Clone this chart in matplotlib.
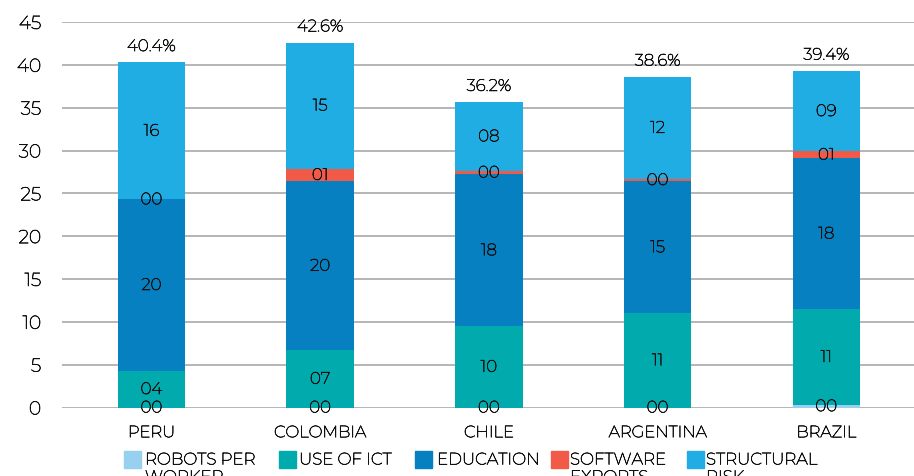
import matplotlib
matplotlib.use("Agg")
import matplotlib.pyplot as plt
import matplotlib.patheffects as pe
from matplotlib.patches import Rectangle
import numpy as np

plt.rcParams['font.family'] = ['Montserrat', 'Lato', 'DejaVu Sans']

countries = ["PERU", "COLOMBIA", "CHILE", "ARGENTINA", "BRAZIL"]
series_names = ["ROBOTS PER\nWORKER", "USE OF ICT", "EDUCATION", "SOFTWARE\nEXPORTS", "STRUCTURAL\nRISK"]
robots = [0.0, 0.0, 0.0, 0.0, 0.3]
use_ict = [4.3, 6.7, 9.5, 11.0, 11.2]
education = [20.0, 19.7, 17.7, 15.4, 17.6]
software = [0.0, 1.49, 0.45, 0.3, 0.8]
structural = [16.0, 14.71, 8.0, 11.9, 9.4]
totals = ["40.4%", "42.6%", "36.2%", "38.6%", "39.4%"]
colors = ["#97D1EF", "#00AAAD", "#0780C2", "#F05A47", "#1FADE4"]
yticks = [0, 5, 10, 15, 20, 25, 30, 35, 40, 45]

W, H = 914, 476
fig = plt.figure(figsize=(W / 100, H / 100), dpi=100)
ax = fig.add_axes([62 / W, 1 - 407.5 / H, 1 - 62 / W, (407.5 - 22) / H])

tc = "#111111"
thick = [pe.withStroke(linewidth=0.45, foreground=tc)]

x = np.arange(len(countries))
bottom = np.zeros(len(countries))
for vals, c in zip([robots, use_ict, education, software, structural], colors):
    vals = np.array(vals)
    ax.bar(x, vals, width=0.4, bottom=bottom, color=c, zorder=2)
    for xi, b, v in zip(x, bottom, vals):
        ax.text(xi, b + v / 2, "%02.0f" % v, ha="center", va="center",
                fontsize=12, color=tc, zorder=3, path_effects=thick)
    bottom = bottom + vals

for xi, top, t in zip(x, bottom, totals):
    ax.text(xi, top + 0.95, t, ha="center", va="bottom", fontsize=12,
            color=tc, path_effects=thick)

ax.set_xlim(-0.53, 4.52)
ax.set_ylim(0, 45)
ax.set_yticks(yticks)
ax.set_yticklabels([str(v) for v in yticks], fontsize=13.5, color=tc)
ax.set_xticks(x)
ax.set_xticklabels(countries, fontsize=11.8, color=tc)
for lab in ax.get_xticklabels() + ax.get_yticklabels():
    lab.set_path_effects(thick)
ax.tick_params(axis="both", length=0)
ax.tick_params(axis="y", pad=15)
ax.tick_params(axis="x", pad=13.5)
ax.yaxis.grid(True, color="#B0B0B0", linewidth=1.3, zorder=0)
ax.set_axisbelow(True)
for s in ax.spines.values():
    s.set_visible(False)

# legend
patch_x = [124, 279, 415, 551, 687]
text_x = [145, 299, 437, 570, 706]
for px, tx, name, c in zip(patch_x, text_x, series_names, colors):
    fig.add_artist(Rectangle((px / W, 1 - 468 / H), 17 / W, 17 / H,
                             transform=fig.transFigure, color=c))
    fig.text(tx / W, 1 - 451.5 / H, name, ha="left", va="top",
             fontsize=12, color=tc, linespacing=1.12, path_effects=thick)

fig.savefig("out.png", dpi=100)
